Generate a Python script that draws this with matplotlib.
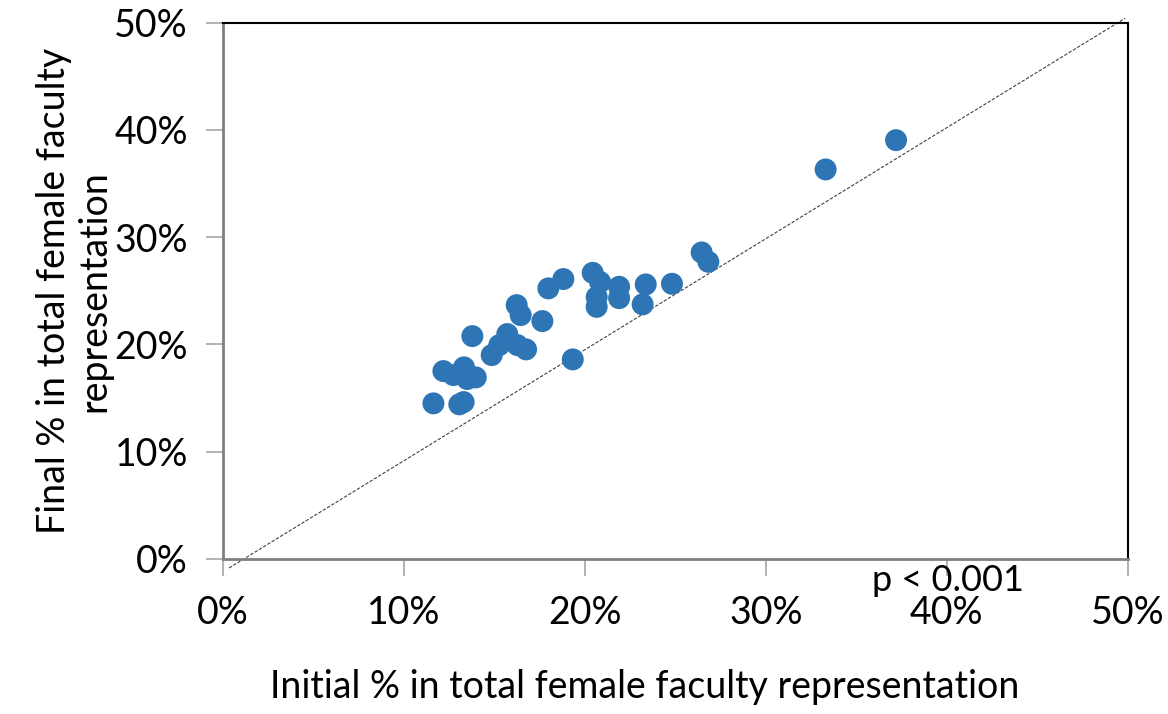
import matplotlib.pyplot as plt
from matplotlib.ticker import FuncFormatter

# initial vs final % female faculty
initial = [11.64, 13.07, 13.31, 12.19, 12.74, 13.33, 13.51, 13.98, 13.79, 14.86,
           15.28, 15.72, 16.24, 16.46, 16.28, 16.76, 17.66, 17.99, 18.82, 19.34,
           20.44, 20.85, 20.66, 20.66, 21.90, 21.90, 23.37, 23.20, 24.82, 26.46,
           26.83, 33.31, 37.20]
final = [14.51, 14.42, 14.63, 17.52, 17.15, 17.87, 16.78, 16.93, 20.78, 19.01,
         19.94, 20.97, 23.67, 22.74, 19.94, 19.54, 22.18, 25.23, 26.10, 18.61,
         26.68, 25.82, 24.42, 23.51, 25.38, 24.32, 25.60, 23.74, 25.66, 28.58,
         27.71, 36.32, 39.05]

# dashed trend line endpoints
line_x = [0.35, 49.86]
line_y = [-0.84, 50.42]

ticks = [0, 10, 20, 30, 40, 50]

plt.rcParams["font.family"] = ["Lato", "DejaVu Sans"]

fig = plt.figure(figsize=(11.68, 7.14), dpi=100)
ax = fig.add_axes([0.1907, 0.2171, 0.7748, 0.7511])

ax.scatter(initial, final, s=250, color="#2e75b6", edgecolors="none", zorder=3)
ax.plot(line_x, line_y, linestyle=(0, (3, 1.5)), color="#404040", linewidth=0.8,
        clip_on=False, zorder=2)

ax.set_xlim(0, 50)
ax.set_ylim(0, 50)
ax.set_xticks(ticks)
ax.set_yticks(ticks)
pct = FuncFormatter(lambda v, p: f"{v:.0f}%")
ax.xaxis.set_major_formatter(pct)
ax.yaxis.set_major_formatter(pct)
ax.tick_params(axis="both", direction="out", length=12, width=1.2, color="#a6a6a6",
               labelsize=27)
ax.tick_params(axis="y", pad=13)
ax.tick_params(axis="x", pad=14)

for s in ["left", "bottom"]:
    ax.spines[s].set_color("#808080")
    ax.spines[s].set_linewidth(2)
for s in ["top", "right"]:
    ax.spines[s].set_color("black")
    ax.spines[s].set_linewidth(1.5)

ax.set_xlabel("Initial % in total female faculty representation", fontsize=27)
ax.xaxis.set_label_coords(0.4666, -0.205)
ax.set_ylabel("Final % in total female faculty\nrepresentation", fontsize=27,
              linespacing=1.15)
ax.yaxis.set_label_coords(-0.122, 0.5)

ax.text(0.717, -0.04, "p < 0.001", transform=ax.transAxes, fontsize=26,
        ha="left", va="center")

fig.savefig("out.png", dpi=100)
